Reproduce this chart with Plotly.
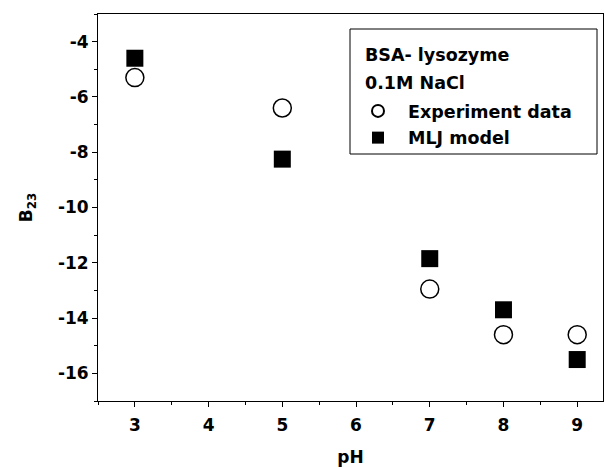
import plotly.graph_objects as go

ph = [3, 5, 7, 8, 9]
experiment = [-5.3, -6.4, -12.95, -14.6, -14.6]
mlj_model = [-4.6, -8.25, -11.85, -13.7, -15.5]
x_ticks = [3, 4, 5, 6, 7, 8, 9]
y_ticks = [-4, -6, -8, -10, -12, -14, -16]
legend_title = ["BSA- lysozyme", "0.1M NaCl"]

font_family = "DejaVu Sans, Liberation Sans, Arial, sans-serif"
tick_size = 17
leg_size = 17.5

fig = go.Figure()
fig.add_trace(go.Scatter(
    x=ph, y=experiment, mode="markers", name="<b>Experiment data</b>", legendgroup="a",
    marker=dict(symbol="circle-open", size=18, color="black", line=dict(width=1.5)),
))
fig.add_trace(go.Scatter(
    x=ph, y=mlj_model, mode="markers", name="<b>MLJ model</b>", legendgroup="b",
    marker=dict(symbol="square", size=17, color="black", line=dict(width=0)),
))

axis_common = dict(
    showgrid=False, zeroline=False, showline=True, linecolor="black", linewidth=1,
    mirror=True, ticks="outside", ticklen=5, tickwidth=1, tickcolor="black",
    tickfont=dict(family=font_family, size=tick_size, color="#000000"),
)

# legend frame and title lines
fig.add_shape(type="rect", xref="paper", yref="paper",
              x0=(350 - 98) / 505, x1=(597 - 98) / 505,
              y0=(401 - 154) / 387, y1=(401 - 29) / 387,
              line=dict(color="black", width=1), fillcolor="white", layer="below")
for i, line in enumerate(legend_title):
    fig.add_annotation(xref="paper", yref="paper", x=(363 - 98) / 505,
                       y=(401 - (55 + 28 * i)) / 387, xanchor="left", yanchor="middle",
                       text=f"<b>{line}</b>", showarrow=False,
                       font=dict(family=font_family, size=leg_size, color="black"))

fig.update_layout(
    width=605, height=468,
    margin=dict(l=98, r=2, t=14, b=67),
    paper_bgcolor="white", plot_bgcolor="white",
    font=dict(family=font_family, color="black"),
    showlegend=True,
    legend=dict(
        x=(348 - 98) / 505, y=(401 - 93) / 387, xanchor="left", yanchor="top",
        borderwidth=0, bgcolor="rgba(0,0,0,0)",
        font=dict(family=font_family, size=leg_size, color="black"),
        itemsizing="constant", itemwidth=50, tracegroupgap=1,
    ),
    xaxis=dict(
        range=[2.5, 9.35], tickmode="array", tickvals=x_ticks,
        ticktext=[f"<b>{v}</b>" for v in x_ticks], tickangle=0,
        ticklabelstandoff=4,
        title=dict(text="<b>pH</b>", font=dict(family=font_family, size=tick_size), standoff=16),
        minor=dict(ticks="outside", ticklen=3, tickwidth=1, tickcolor="black", dtick=0.5, tick0=2.5),
        **axis_common,
    ),
    yaxis=dict(
        range=[-17, -3], tickmode="array", tickvals=y_ticks,
        ticktext=[f"<b>{v}</b>" for v in y_ticks],
        title=dict(text="<b>B<sub>23</sub></b>", font=dict(family=font_family, size=tick_size), standoff=20),
        minor=dict(ticks="outside", ticklen=3, tickwidth=1, tickcolor="black", dtick=1, tick0=-17),
        **axis_common,
    ),
)

fig.write_html("out.html")
